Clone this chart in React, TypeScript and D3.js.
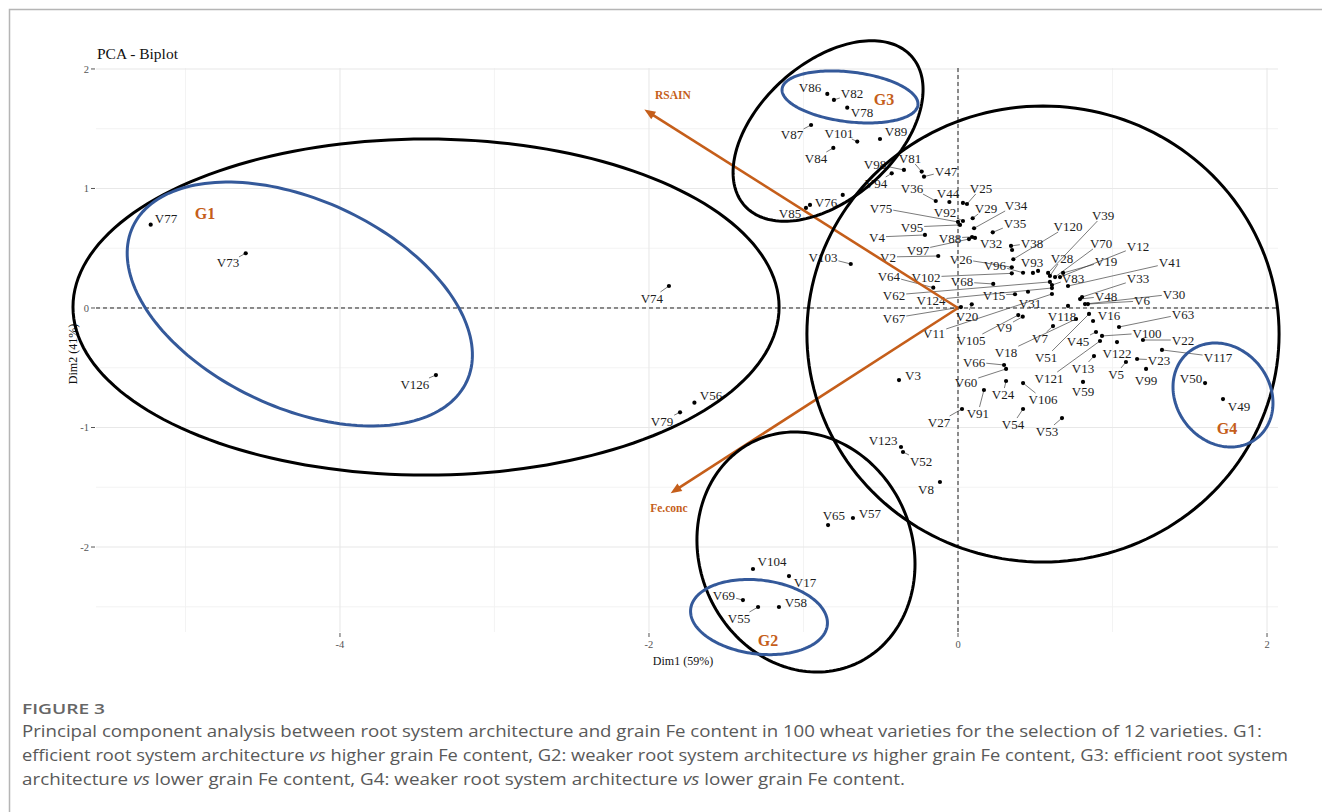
import React from "react";
import * as d3 from "d3";

// ---------- data ----------
const xMajorTicks = [-4, -2, 0, 2];
const xMinorTicks = [-5, -3, -1, 1];
const yMajorTicks = [-2, -1, 0, 1, 2];
const yMinorTicks = [-2.5, -1.5, -0.5, 0.5, 1.5];

// [variety, Dim1, Dim2]  ("" = unlabeled point)
const varieties: [string, number, number][] = [
  ["V77", -5.225, 0.697], ["V73", -4.61, 0.458], ["V126", -3.379, -0.561],
  ["V74", -1.871, 0.184], ["V56", -1.706, -0.792], ["V79", -1.799, -0.873],
  ["V86", -0.846, 1.791], ["V82", -0.803, 1.741], ["V78", -0.717, 1.676],
  ["V87", -0.951, 1.531], ["V101", -0.652, 1.392], ["V89", -0.505, 1.414],
  ["V84", -0.807, 1.339], ["V98", -0.35, 1.155], ["V81", -0.235, 1.141],
  ["V47", -0.22, 1.099], ["V94", -0.429, 1.127], ["", -0.746, 0.946],
  ["V36", -0.144, 0.895], ["V44", -0.056, 0.887], ["V25", 0.058, 0.87],
  ["", 0.032, 0.879], ["V76", -0.958, 0.862], ["V85", -0.984, 0.837],
  ["V75", 0.0, 0.72], ["V92", 0.032, 0.728], ["V95", 0.013, 0.695],
  ["V29", 0.095, 0.751], ["V34", 0.104, 0.667], ["V35", 0.225, 0.633],
  ["V4", -0.214, 0.611], ["V88", 0.091, 0.594], ["V32", 0.11, 0.586],
  ["V97", 0.071, 0.577], ["V2", -0.128, 0.435], ["V103", -0.694, 0.368],
  ["V26", 0.348, 0.341], ["V96", 0.421, 0.295], ["V93", 0.485, 0.293],
  ["", 0.518, 0.31], ["V38", 0.343, 0.519], ["", 0.35, 0.485],
  ["V120", 0.358, 0.408], ["V39", 0.583, 0.293], ["V28", 0.595, 0.268],
  ["V70", 0.628, 0.259], ["V12", 0.66, 0.259], ["V19", 0.68, 0.293],
  ["V41", 0.712, 0.184], ["V83", 0.608, 0.192], ["V62", 0.595, 0.218],
  ["V124", 0.608, 0.167], ["V11", 0.608, 0.117], ["V64", -0.16, 0.17],
  ["V102", 0.348, 0.29], ["V68", 0.228, 0.201], ["V15", 0.369, 0.115],
  ["V31", 0.453, 0.136], ["V33", 0.803, 0.092], ["V48", 0.79, 0.075],
  ["V30", 0.822, 0.033], ["V6", 0.841, 0.033], ["V67", 0.019, 0.008],
  ["V20", 0.089, 0.031], ["V105", 0.39, -0.059], ["V9", 0.419, -0.073],
  ["V118", 0.712, 0.017], ["V16", 0.874, -0.109], ["V51", 0.848, -0.05],
  ["V63", 1.042, -0.159], ["V7", 0.615, -0.151], ["V18", 0.764, -0.092],
  ["V45", 0.893, -0.201], ["V100", 0.932, -0.234], ["V121", 0.919, -0.276],
  ["V22", 1.197, -0.268], ["V122", 1.029, -0.285], ["V117", 1.32, -0.351],
  ["V23", 1.159, -0.427], ["V5", 1.087, -0.452], ["V99", 1.217, -0.51],
  ["V13", 0.88, -0.402], ["V59", 0.809, -0.619], ["V50", 1.599, -0.628],
  ["V49", 1.715, -0.762], ["V66", 0.298, -0.477], ["V60", 0.311, -0.51],
  ["V3", -0.382, -0.603], ["V24", 0.311, -0.611], ["V106", 0.421, -0.628],
  ["V91", 0.168, -0.686], ["V27", 0.026, -0.845], ["V54", 0.421, -0.845],
  ["V53", 0.673, -0.921], ["V123", -0.369, -1.163], ["V52", -0.356, -1.205],
  ["V8", -0.117, -1.456], ["V65", -0.841, -1.816], ["V57", -0.68, -1.757],
  ["V104", -1.327, -2.184], ["V17", -1.094, -2.243], ["V69", -1.392, -2.444],
  ["V55", -1.294, -2.502], ["V58", -1.159, -2.502],
];

// repelled label positions (data units)
const labelPositions: Record<string, [number, number]> = {
  V77: [-5.126, 0.745], V73: [-4.725, 0.377], V126: [-3.515, -0.636],
  V74: [-1.981, 0.084], V56: [-1.599, -0.728], V79: [-1.916, -0.946],
  V86: [-0.958, 1.849], V82: [-0.686, 1.791], V78: [-0.621, 1.632],
  V87: [-1.074, 1.448], V101: [-0.77, 1.464], V89: [-0.401, 1.473],
  V84: [-0.919, 1.255], V98: [-0.537, 1.205], V81: [-0.311, 1.255],
  V47: [-0.078, 1.146], V94: [-0.531, 1.046], V36: [-0.298, 1.004],
  V44: [-0.065, 0.962], V25: [0.149, 1.004], V76: [-0.854, 0.879],
  V85: [-1.087, 0.787], V75: [-0.498, 0.837], V92: [-0.084, 0.803],
  V95: [-0.298, 0.678], V29: [0.181, 0.837], V34: [0.375, 0.862],
  V35: [0.369, 0.711], V4: [-0.524, 0.594], V88: [-0.052, 0.586],
  V32: [0.214, 0.544], V97: [-0.259, 0.485], V2: [-0.453, 0.427],
  V103: [-0.874, 0.427], V26: [0.019, 0.41], V96: [0.239, 0.36],
  V93: [0.479, 0.377], V38: [0.479, 0.544], V120: [0.712, 0.686],
  V39: [0.939, 0.778], V28: [0.673, 0.418], V70: [0.926, 0.544],
  V12: [1.165, 0.519], V19: [0.958, 0.393], V41: [1.372, 0.377],
  V83: [0.744, 0.251], V62: [-0.414, 0.109], V124: [-0.175, 0.067],
  V11: [-0.155, -0.209], V64: [-0.447, 0.268], V102: [-0.207, 0.259],
  V68: [0.026, 0.218], V15: [0.233, 0.109], V31: [0.466, 0.042],
  V33: [1.165, 0.243], V48: [0.958, 0.1], V30: [1.398, 0.117],
  V6: [1.191, 0.059], V67: [-0.414, -0.084], V20: [0.058, -0.067],
  V105: [0.084, -0.268], V9: [0.298, -0.159], V118: [0.673, -0.067],
  V16: [0.977, -0.059], V51: [0.57, -0.41], V63: [1.456, -0.05],
  V7: [0.531, -0.251], V18: [0.311, -0.368], V45: [0.777, -0.276],
  V100: [1.223, -0.209], V121: [0.589, -0.586], V22: [1.456, -0.268],
  V122: [1.029, -0.377], V117: [1.683, -0.41], V23: [1.301, -0.435],
  V5: [1.023, -0.552], V99: [1.217, -0.603], V13: [0.809, -0.502],
  V59: [0.809, -0.695], V50: [1.508, -0.586], V49: [1.819, -0.828],
  V66: [0.104, -0.452], V60: [0.052, -0.619], V3: [-0.291, -0.561],
  V24: [0.291, -0.72], V106: [0.55, -0.762], V91: [0.129, -0.879],
  V27: [-0.123, -0.954], V54: [0.356, -0.971], V53: [0.576, -1.029],
  V123: [-0.485, -1.105], V52: [-0.239, -1.28], V8: [-0.207, -1.515],
  V65: [-0.803, -1.732], V57: [-0.57, -1.715], V104: [-1.204, -2.117],
  V17: [-0.99, -2.293], V69: [-1.515, -2.402], V55: [-1.417, -2.594],
  V58: [-1.049, -2.46],
};

// variable arrows: [name, Dim1, Dim2]
const variables: [string, number, number][] = [
  ["RSAIN", -2.03, 1.66],
  ["Fe.conc", -1.86, -1.55],
];
const variableLabelPositions: Record<string, [number, number]> = {
  RSAIN: [-1.845, 1.782],
  "Fe.conc": [-1.871, -1.674],
};

// group labels: [name, Dim1, Dim2]
const groupLabels: [string, number, number][] = [
  ["G1", -4.874, 0.795],
  ["G2", -1.23, -2.778],
  ["G3", -0.479, 1.749],
  ["G4", 1.741, -1.004],
];

// ellipses: centre + two conjugate semi-axis vectors (data units)
type Ell = { cx: number; cy: number; ax: number; ay: number; bx: number; by: number };
const clusterEllipses: Ell[] = [
  { cx: -3.443, cy: 0.008, ax: 2.285, ay: 0, bx: 0, by: 1.406 },
  { cx: 0.55, cy: -0.218, ax: 1.528, ay: 0, bx: 0, by: 1.908 },
  { cx: -0.841, cy: 1.481, ax: 0.54, ay: 0.625, bx: 0.294, by: -0.424 },
  { cx: -0.984, cy: -2.042, ax: 0.312, ay: -0.941, bx: -0.633, by: -0.351 },
];
const groupEllipses: Ell[] = [
  { cx: -4.26, cy: 0.033, ax: 1.081, ay: -0.646, bx: -0.282, by: -0.79 },
  { cx: -0.699, cy: 1.766, ax: 0.4395, ay: -0.0676, bx: -0.019, by: -0.207 },
  { cx: -1.288, cy: -2.586, ax: 0.442, ay: -0.0686, bx: -0.0284, by: -0.307 },
  { cx: 1.715, cy: -0.728, ax: 0.218, ay: -0.363, bx: -0.239, by: -0.24 },
];

// ---------- styles ----------
const SERIF = "'Liberation Serif', 'Times New Roman', serif";
const SANS = "'Open Sans', 'Noto Sans', sans-serif";
const ORANGE = "#c55e1a";
const BLUE = "#34599a";

export default function App() {
  const W = 1322;
  const H = 812;
  const x = d3.scaleLinear().domain([-5.579, 2.071]).range([96, 1278]);
  const y = d3.scaleLinear().domain([-2.711, 2.008]).range([632, 68]);
  const [x0, x1] = x.range();
  const [y0, y1] = y.range();

  const ellPath = (e: Ell) => {
    const pts: [number, number][] = d3.range(0, 361, 2).map((deg) => {
      const t = (deg * Math.PI) / 180;
      return [
        x(e.cx + e.ax * Math.cos(t) + e.bx * Math.sin(t)),
        y(e.cy + e.ay * Math.cos(t) + e.by * Math.sin(t)),
      ];
    });
    return d3.line()(pts) + "Z";
  };

  const FS = 13;
  const labelW = (s: string) => FS * 0.722 + FS * 0.5 * (s.length - 1);
  const labelH = 10;

  const segments: { x1: number; y1: number; x2: number; y2: number; k: string }[] = [];
  varieties.forEach(([name, dx, dy]) => {
    if (!name || !labelPositions[name]) return;
    const px = x(dx), py = y(dy);
    const [lxD, lyD] = labelPositions[name];
    const lx = x(lxD), ly = y(lyD);
    const hw = labelW(name) / 2 + 1, hh = labelH / 2 + 1;
    const vx = px - lx, vy = py - ly;
    if (Math.abs(vx) <= hw && Math.abs(vy) <= hh) return;
    const s = Math.min(
      vx !== 0 ? hw / Math.abs(vx) : Infinity,
      vy !== 0 ? hh / Math.abs(vy) : Infinity
    );
    const ex = lx + vx * s, ey = ly + vy * s;
    const len = Math.hypot(px - ex, py - ey);
    if (len < 6) return;
    segments.push({ x1: px, y1: py, x2: ex, y2: ey, k: name });
  });

  const arrowHead = (x2: number, y2: number, xs: number, ys: number) => {
    const ang = Math.atan2(y2 - ys, x2 - xs);
    const L = 11, Wd = 4.5;
    const bx = x2 - L * Math.cos(ang), by = y2 - L * Math.sin(ang);
    const nx = -Math.sin(ang), ny = Math.cos(ang);
    return `M${x2},${y2}L${bx + nx * Wd},${by + ny * Wd}L${bx - nx * Wd},${by - ny * Wd}Z`;
  };

  const captionStyle = { fontFamily: SANS, fontSize: 16.5, fill: "#595959" } as const;

  return (
    <div style={{ position: "absolute", left: 0, top: 0, width: W, height: H, background: "#fff" }}>
      <svg width={W} height={H} viewBox={`0 0 ${W} ${H}`} style={{ display: "block" }}>
        <rect x={0} y={0} width={W} height={H} fill="#fff" />
        <path d={`M9.5,${H}V9.5H${W}`} fill="none" stroke="#b5b5b5" strokeWidth={1.5} />

        {/* grid */}
        {xMinorTicks.map((t) => (
          <line key={"xm" + t} x1={x(t)} x2={x(t)} y1={y0} y2={y1} stroke="#f2f2f2" strokeWidth={0.9} />
        ))}
        {yMinorTicks.map((t) => (
          <line key={"ym" + t} x1={x0} x2={x1} y1={y(t)} y2={y(t)} stroke="#f2f2f2" strokeWidth={0.9} />
        ))}
        {xMajorTicks.map((t) => (
          <line key={"xM" + t} x1={x(t)} x2={x(t)} y1={y0} y2={y1} stroke="#e8e8e8" strokeWidth={1.1} />
        ))}
        {yMajorTicks.map((t) => (
          <line key={"yM" + t} x1={x0} x2={x1} y1={y(t)} y2={y(t)} stroke="#e8e8e8" strokeWidth={1.1} />
        ))}

        {/* axes ticks + labels */}
        {yMajorTicks.map((t) => (
          <g key={"yt" + t}>
            <line x1={x0 - 5} x2={x0 - 1} y1={y(t)} y2={y(t)} stroke="#555" strokeWidth={1} />
            <text x={x0 - 7} y={y(t)} dy="0.35em" textAnchor="end" fontFamily={SERIF} fontSize={10.5} fill="#555">
              {t}
            </text>
          </g>
        ))}
        {xMajorTicks.map((t) => (
          <g key={"xt" + t}>
            <line x1={x(t)} x2={x(t)} y1={y0 + 1} y2={y0 + 5} stroke="#555" strokeWidth={1} />
            <text x={x(t)} y={y0 + 16} textAnchor="middle" fontFamily={SERIF} fontSize={10.5} fill="#555">
              {t}
            </text>
          </g>
        ))}

        {/* reference lines */}
        <line x1={x(0)} x2={x(0)} y1={y0} y2={y1} stroke="#222" strokeWidth={1} strokeDasharray="4,3" />
        <line x1={x0} x2={x1} y1={y(0)} y2={y(0)} stroke="#222" strokeWidth={1} strokeDasharray="4,3" />

        {/* titles */}
        <text x={97} y={59} fontFamily={SERIF} fontSize={15.5} fill="#111">PCA - Biplot</text>
        <text x={(x0 + x1) / 2 - 4} y={665} textAnchor="middle" fontFamily={SERIF} fontSize={12} fill="#111">
          Dim1 (59%)
        </text>
        <text
          transform={`translate(77,${(y0 + y1) / 2 + 4}) rotate(-90)`}
          textAnchor="middle"
          fontFamily={SERIF}
          fontSize={12}
          fill="#111"
        >
          Dim2 (41%)
        </text>

        {/* segments */}
        {segments.map((s) => (
          <line key={"s" + s.k} x1={s.x1} y1={s.y1} x2={s.x2} y2={s.y2} stroke="#222" strokeWidth={0.6} />
        ))}

        {/* points */}
        {varieties.map(([name, dx, dy], i) => (
          <circle key={"p" + i} cx={x(dx)} cy={y(dy)} r={2.1} fill="#000" />
        ))}

        {/* labels */}
        {varieties.map(([name]) =>
          name && labelPositions[name] ? (
            <text
              key={"l" + name}
              x={x(labelPositions[name][0])}
              y={y(labelPositions[name][1])}
              dy="0.35em"
              textAnchor="middle"
              fontFamily={SERIF}
              fontSize={FS}
              fill="#1c1c1c"
            >
              {name}
            </text>
          ) : null
        )}

        {/* arrows */}
        {variables.map(([name, dx, dy]) => {
          const xs = x(0), ys = y(0), xe = x(dx), ye = y(dy);
          const ang = Math.atan2(ye - ys, xe - xs);
          return (
            <g key={"a" + name}>
              <line x1={xs} y1={ys} x2={xe - 8 * Math.cos(ang)} y2={ye - 8 * Math.sin(ang)} stroke={ORANGE} strokeWidth={2.6} />
              <path d={arrowHead(xe, ye, xs, ys)} fill={ORANGE} />
              <text
                x={x(variableLabelPositions[name][0])}
                y={y(variableLabelPositions[name][1])}
                dy="0.35em"
                textAnchor="middle"
                fontFamily={SERIF}
                fontWeight="bold"
                fontSize={11.5}
                fill={ORANGE}
              >
                {name}
              </text>
            </g>
          );
        })}

        {/* ellipses */}
        {clusterEllipses.map((e, i) => (
          <path key={"ce" + i} d={ellPath(e)} fill="none" stroke="#000" strokeWidth={3} />
        ))}
        {groupEllipses.map((e, i) => (
          <path key={"ge" + i} d={ellPath(e)} fill="none" stroke={BLUE} strokeWidth={3} />
        ))}

        {/* group labels */}
        {groupLabels.map(([g, dx, dy]) => (
          <text key={g} x={x(dx)} y={y(dy)} dy="0.35em" textAnchor="middle" fontFamily={SERIF} fontWeight="bold" fontSize={16} fill={ORANGE}>
            {g}
          </text>
        ))}

        {/* caption */}
        <text x={22} y={714} fontFamily={SANS} fontSize={15} fontWeight={600} fill="#666" textLength={83} lengthAdjust="spacingAndGlyphs">
          FIGURE 3
        </text>
        <text x={22} y={737} {...captionStyle} textLength={1240} lengthAdjust="spacingAndGlyphs">
          Principal component analysis between root system architecture and grain Fe content in 100 wheat varieties for the selection of 12 varieties. G1:
        </text>
        <text x={22} y={761} {...captionStyle} textLength={1266} lengthAdjust="spacingAndGlyphs">
          efficient root system architecture <tspan fontStyle="italic">vs</tspan> higher grain Fe content, G2: weaker root system architecture{" "}
          <tspan fontStyle="italic">vs</tspan> higher grain Fe content, G3: efficient root system
        </text>
        <text x={22} y={785} {...captionStyle} textLength={883} lengthAdjust="spacingAndGlyphs">
          architecture <tspan fontStyle="italic">vs</tspan> lower grain Fe content, G4: weaker root system architecture{" "}
          <tspan fontStyle="italic">vs</tspan> lower grain Fe content.
        </text>
      </svg>
    </div>
  );
}
